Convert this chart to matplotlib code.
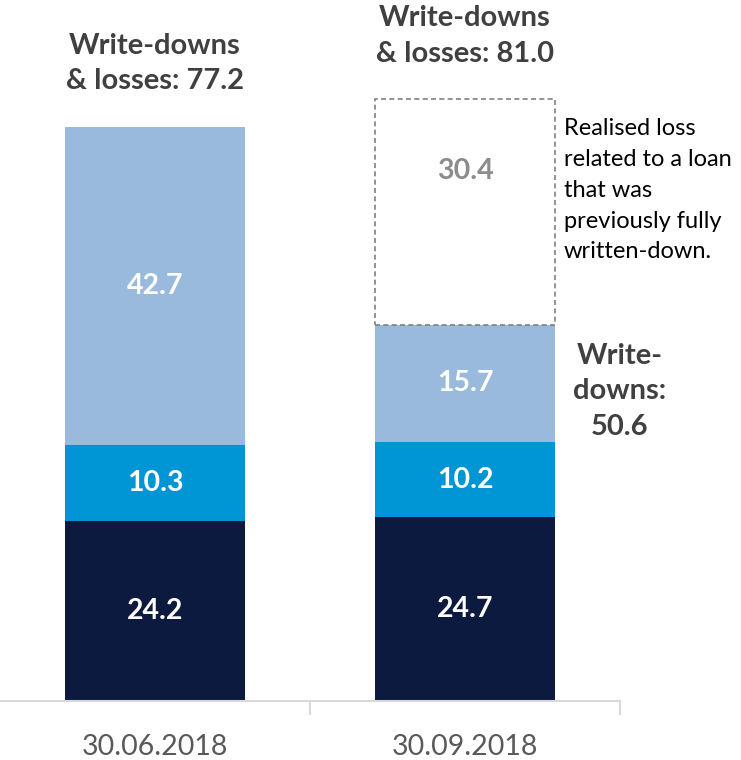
import matplotlib.pyplot as plt
from matplotlib.patches import Rectangle

# data
dates = ["30.06.2018", "30.09.2018"]
dark_vals = [24.2, 24.7]
mid_vals = [10.3, 10.2]
light_vals = [42.7, 15.7]
realised_loss = 30.4
totals = ["Write-downs\n& losses: 77.2", "Write-downs\n& losses: 81.0"]

DARK = "#0D1A40"
MID = "#0095D5"
LIGHT = "#99BADD"
TXT = "#404040"

plt.rcParams["font.family"] = ["Lato", "DejaVu Sans"]

fig = plt.figure(figsize=(7.41, 7.6), dpi=100)
ax = fig.add_axes([0.0, 59 / 760, 620 / 741, 701 / 760])
ax.set_xlim(-0.5, 1.5)
ax.set_ylim(0, 701 / 7.43)

x = [0, 1]
w = 0.58
ax.bar(x, dark_vals, w, color=DARK)
ax.bar(x, mid_vals, w, bottom=dark_vals, color=MID)
bottom2 = [d + m for d, m in zip(dark_vals, mid_vals)]
ax.bar(x, light_vals, w, bottom=bottom2, color=LIGHT)

lbl = dict(ha="center", va="center", color="white", fontsize=20.5, fontweight="bold")
for i in range(2):
    ax.text(x[i], dark_vals[i] / 2, f"{dark_vals[i]:.1f}", **lbl)
    ax.text(x[i], dark_vals[i] + mid_vals[i] / 2, f"{mid_vals[i]:.1f}", **lbl)
    ax.text(x[i], bottom2[i] + light_vals[i] / 2, f"{light_vals[i]:.1f}", **lbl)

# dashed box for realised loss
top2 = bottom2[1] + light_vals[1]
ax.add_patch(Rectangle((x[1] - w / 2, top2), w, realised_loss, fill=False,
                       edgecolor="#808080", linestyle=(0, (3, 2)), linewidth=1.2))
ax.text(x[1], top2 + realised_loss * 0.68, f"{realised_loss:.1f}", ha="center", va="center",
        color="#8C8C8C", fontsize=20.5, fontweight="bold")

# totals above bars
tot1 = dark_vals[0] + mid_vals[0] + light_vals[0]
ax.text(x[0], tot1 + 8.6, totals[0], ha="center", va="center", color=TXT,
        fontsize=21, fontweight="bold", linespacing=1.46)
ax.text(x[1], top2 + realised_loss + 8.5, totals[1], ha="center", va="center", color=TXT,
        fontsize=21, fontweight="bold", linespacing=1.46, clip_on=False)

ax.text(1.318, top2 + realised_loss - 2.6,
        "Realised loss\nrelated to a loan\nthat was\npreviously fully\nwritten-down.",
        ha="left", va="top", color="black", fontsize=17, linespacing=1.57, clip_on=False)
ax.text(1.5, top2 - 8.9, "Write-\ndowns:\n50.6", ha="center", va="center", color=TXT,
        fontsize=21, fontweight="bold", linespacing=1.45, clip_on=False)

# axes styling
for s in ["top", "right", "left"]:
    ax.spines[s].set_visible(False)
ax.spines["bottom"].set_color("#D9D9D9")
ax.spines["bottom"].set_linewidth(1.5)
ax.set_yticks([])
ax.set_xticks(x)
ax.set_xticklabels(dates, fontsize=20.5, color="#595959")
ax.tick_params(axis="x", which="major", length=0, pad=24)
ax.set_xticks([0.5, 1.5], minor=True)
ax.tick_params(axis="x", which="minor", length=10, width=1.5, color="#D9D9D9")

fig.savefig("out.png", dpi=100)
